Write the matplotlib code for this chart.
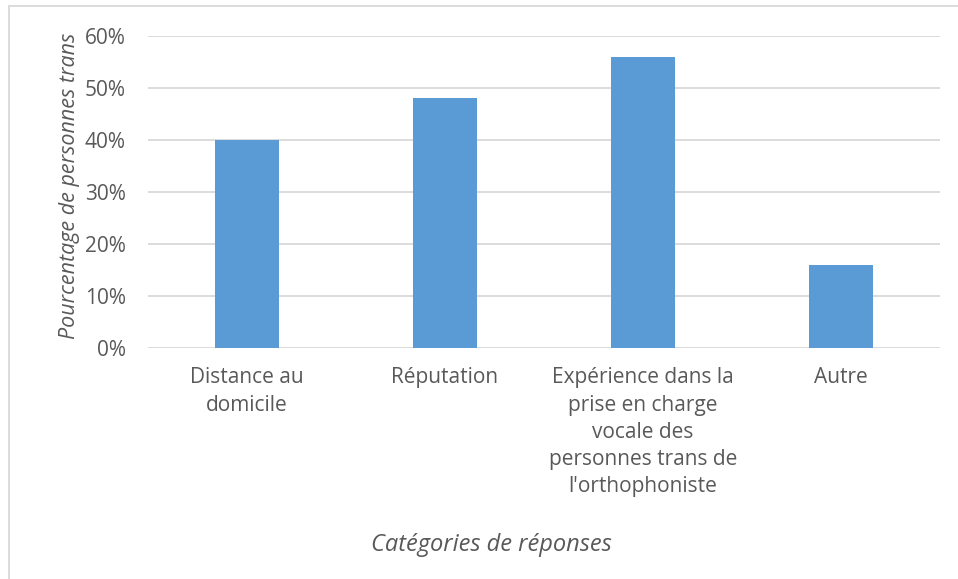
import matplotlib
matplotlib.use("Agg")
import matplotlib.pyplot as plt
from matplotlib.patches import Rectangle
from matplotlib.ticker import FuncFormatter

categories = ["Distance au\ndomicile", "Réputation",
              "Expérience dans la\nprise en charge\nvocale des\npersonnes trans de\nl'orthophoniste",
              "Autre"]
values = [0.40, 0.48, 0.56, 0.16]
yticks = [0, 0.1, 0.2, 0.3, 0.4, 0.5, 0.6]

plt.rcParams['font.family'] = ['Open Sans', 'DejaVu Sans']
txt = '#595959'

fig = plt.figure(figsize=(9.58, 5.79), dpi=100)
W, H = 958, 579
ax = fig.add_axes([148 / W, 1 - 348 / H, (940 - 148) / W, (348 - 36) / H])

x = list(range(len(categories)))
ax.bar(x, values, width=0.32, color='#5B9BD5', zorder=3)
ax.set_xlim(-0.5, len(categories) - 0.5)
ax.set_ylim(0, 0.6)
ax.set_yticks(yticks)
ax.yaxis.set_major_formatter(FuncFormatter(lambda v, p: f"{v*100:.0f}%"))
ax.grid(axis='y', color='#D9D9D9', linewidth=1.3, zorder=0)
for s in ax.spines.values():
    s.set_visible(False)
ax.tick_params(axis='both', length=0, labelsize=15, colors=txt)
ax.tick_params(axis='y', pad=16)
ax.tick_params(axis='x', pad=14)
ax.set_xticks(x)
ax.set_xticklabels(categories, linespacing=1.38, va='top')
ax.set_ylabel("Pourcentage de personnes trans", fontsize=15.5, style='italic', color=txt, labelpad=3.5)
ax.yaxis.label.set_y(0.52)
fig.text(491 / W, 1 - 545 / H, "Catégories de réponses", fontsize=17,
         style='italic', color=txt, ha='center', va='center')

fig.patches.append(Rectangle((9 / W, -0.1), 1.0, 1 - 6 / H + 0.1,
                             transform=fig.transFigure, fill=False,
                             edgecolor='#D9D9D9', linewidth=1.3))
fig.savefig("out.png", dpi=100, facecolor='white')
